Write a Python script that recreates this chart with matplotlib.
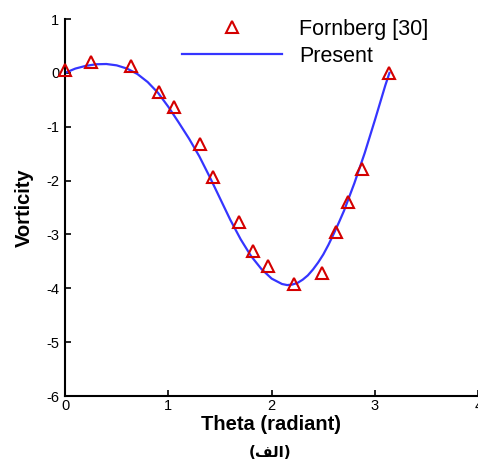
import numpy as np
import matplotlib
matplotlib.use('Agg')
import matplotlib.pyplot as plt

plt.rcParams['font.family'] = ['Liberation Sans', 'DejaVu Sans']

# Fornberg [30] reference points
theta_ref = [0.0, 0.25, 0.64, 0.91, 1.05, 1.31, 1.43, 1.68, 1.82, 1.96,
             2.22, 2.49, 2.62, 2.74, 2.87, 3.14]
vort_ref = [0.05, 0.20, 0.13, -0.35, -0.63, -1.32, -1.93, -2.76, -3.31, -3.58,
            -3.92, -3.71, -2.95, -2.40, -1.78, 0.0]

# present solution
theta_cur = [0.0, 0.1, 0.2, 0.3, 0.4, 0.5, 0.6, 0.7, 0.8, 0.9, 1.0, 1.1, 1.2,
             1.3, 1.4, 1.5, 1.6, 1.7, 1.8, 1.9, 2.0, 2.1, 2.15, 2.2, 2.25, 2.3,
             2.35, 2.4, 2.45, 2.5, 2.55, 2.6, 2.65, 2.7, 2.8, 2.9, 3.0, 3.1,
             3.14]
vort_cur = [0.0, 0.08, 0.13, 0.16, 0.165, 0.14, 0.08, -0.02, -0.17, -0.37,
            -0.63, -0.92, -1.22, -1.55, -1.93, -2.33, -2.73, -3.09, -3.40,
            -3.64, -3.82, -3.92, -3.94, -3.93, -3.90, -3.84, -3.76, -3.65,
            -3.52, -3.37, -3.19, -2.99, -2.78, -2.56, -2.05, -1.49, -0.87,
            -0.23, 0.0]

fig = plt.figure(figsize=(4.78, 4.70), dpi=100)
ax = fig.add_axes([0.136, 0.1574, 0.8647, 0.8021])

ax.plot(theta_ref, vort_ref, linestyle='none', marker='^', markersize=9,
        markerfacecolor='none', markeredgecolor='#d40000', markeredgewidth=1.5,
        label='Fornberg [30]', clip_on=False, zorder=3)
ax.plot(theta_cur, vort_cur, color='#3535ff', linewidth=1.6, label='Present')

ax.set_xlim(0, 4)
ax.set_ylim(-6, 1)
ax.set_xticks([0, 1, 2, 3, 4])
ax.set_yticks([-6, -5, -4, -3, -2, -1, 0, 1])
ax.set_xticklabels(['0', '1', '2', '3', '4'])
ax.set_yticklabels(['-6', '-5', '-4', '-3', '-2', '-1', '0', '1'])

for s in ['top', 'right']:
    ax.spines[s].set_visible(False)
for s in ['left', 'bottom']:
    ax.spines[s].set_linewidth(1.5)
ax.tick_params(direction='in', length=4, width=1.2, labelsize=10.5)
ax.tick_params(axis='y', pad=4)
ax.tick_params(axis='x', pad=2)

ax.legend(loc='upper left', bbox_to_anchor=(0.273, 1.012), frameon=False,
          fontsize=15.5, handlelength=4.65, handletextpad=0.8,
          labelspacing=0.27, borderaxespad=0, borderpad=0.2)

fig.text(0.567, 0.097, 'Theta (radiant)', ha='center', va='center',
         fontsize=14.5, fontweight='bold')
fig.text(0.052, 0.559, 'Vorticity', ha='center', va='center', rotation=90,
         fontsize=14.5, fontweight='bold')
# Arabic "(الف)" in visual order with presentation forms
fig.text(0.566, 0.038, '(\ufed2\ufedf\ufe8d)', ha='center', va='center',
         fontsize=11, fontweight='bold', family=['DejaVu Sans'])

fig.savefig('out.png', dpi=100)
